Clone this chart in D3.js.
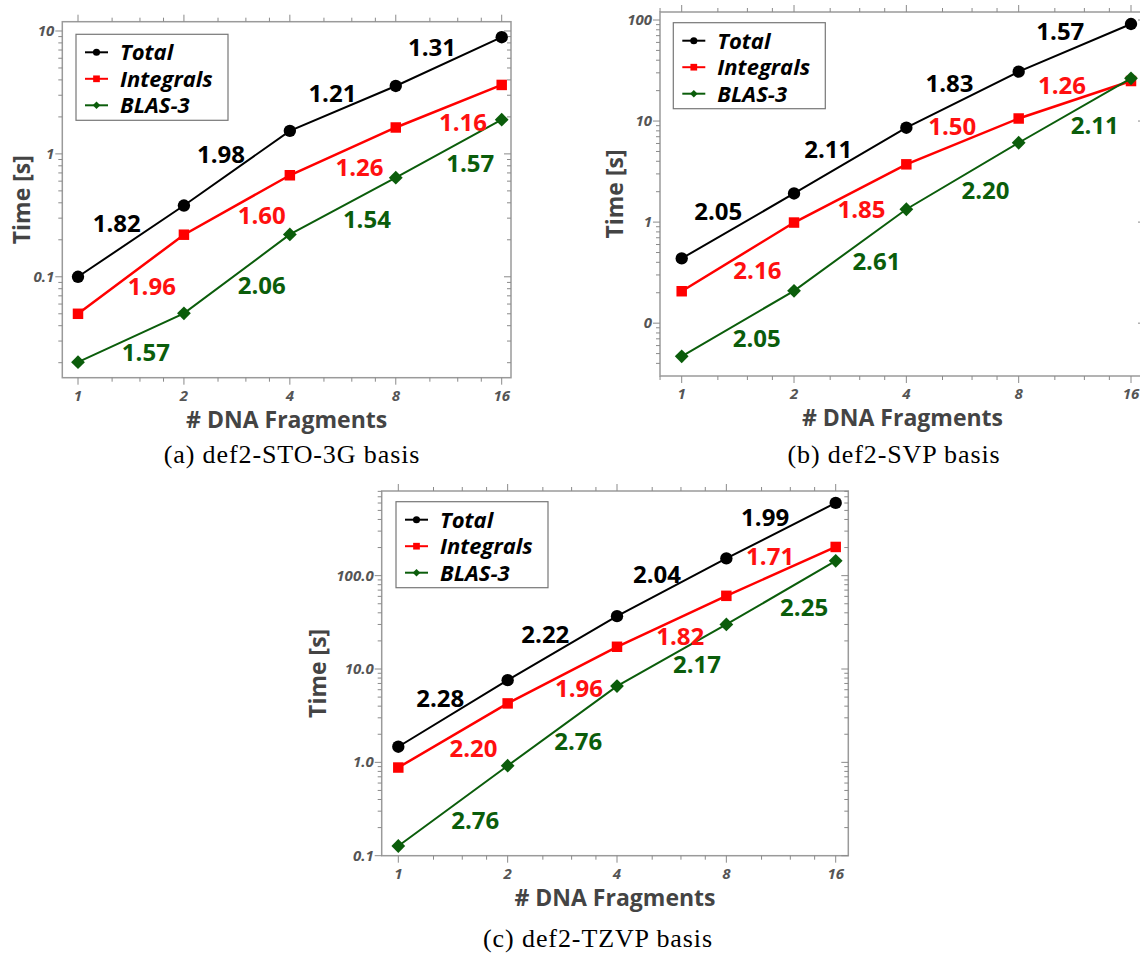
<!DOCTYPE html>
<html>
<head>
<meta charset="utf-8">
<script src="https://cdn.jsdelivr.net/npm/d3@7"></script>
<style>
  body { margin: 0; background: #fff; }
  svg { display: block; }
</style>
</head>
<body>
<svg id="fig" width="1140" height="954"></svg>
<script>
// x axis: number of DNA fragments
const fragments = [1, 2, 4, 8, 16];
const fragmentLabels = ['1', '2', '4', '8', '16'];
const seriesNames = ['Total', 'Integrals', 'BLAS-3'];

// (a) def2-STO-3G, time [s]
const stoTotal = [0.1, 0.38, 1.54, 3.57, 8.9];
const stoIntegrals = [0.050, 0.22, 0.67, 1.64, 3.64];
const stoBlas = [0.0202, 0.0504, 0.221, 0.64, 1.90];
const stoLabels = [
    ['1.82', '1.98', '1.21', '1.31'],
    ['1.96', '1.60', '1.26', '1.16'],
    ['1.57', '2.06', '1.54', '1.57']];
const stoYTicks = [0.1, 1, 10];
const stoYTickLabels = ['0.1', '1', '10'];

// (b) def2-SVP
const svpTotal = [0.437, 1.92, 8.59, 30.8, 91.3];
const svpIntegrals = [0.207, 0.99, 3.73, 10.6, 24.9];
const svpBlas = [0.047, 0.209, 1.34, 6.1, 26.5];
const svpLabels = [
    ['2.05', '2.11', '1.83', '1.57'],
    ['2.16', '1.85', '1.50', '1.26'],
    ['2.05', '2.61', '2.20', '2.11']];
const svpYTicks = [0.1, 1, 10, 100];
const svpYTickLabels = ['0', '1', '10', '100'];

// (c) def2-TZVP
const tzvpTotal = [1.47, 7.6, 36.8, 153, 602];
const tzvpIntegrals = [0.88, 4.28, 17.3, 60.8, 203];
const tzvpBlas = [0.127, 0.92, 6.56, 30.0, 144];
const tzvpLabels = [
    ['2.28', '2.22', '2.04', '1.99'],
    ['2.20', '1.96', '1.82', '1.71'],
    ['2.76', '2.76', '2.17', '2.25']];
const tzvpYTicks = [0.1, 1, 10, 100];
const tzvpYTickLabels = ['0.1', '1.0', '10.0', '100.0'];

// styles
const lineColors = ['#000000', '#ff0000', '#0b5d0b'];
const labelColors = ['#000000', '#ff1010', '#0b5d0b'];
const lineWidths = [2, 2.5, 2];
const markers = ['circle', 'square', 'diamond'];
const font = '"Open Sans", "DejaVu Sans", sans-serif';

// label offsets (px) from the middle of each segment
const stoOffsets = [
    [[-14.2, -18], [-15.9, -14], [-10.4, -15.5], [-16.8, -14]],
    [[20.9, 12.5], [24.9, 10.7], [16.7, 16.3], [14.2, 15.7]],
    [[14.9, 15], [24.9, 11.8], [24.1, 12.8], [21.5, 14.3]]];
const svpOffsets = [
    [[-19.6, -14.8], [-22, -11.2], [-13, -16.4], [-14.5, -16.2]],
    [[19.5, 13.3], [11.3, 16], [-10.3, -14.6], [-12.9, -14]],
    [[18.9, 15], [26.2, 11.7], [23, 14.7], [19.9, 14.5]]];
const tzvpOffsets = [
    [[-12.8, -15], [-17, -14], [-14.7, -12.9], [-15.9, -13.2]],
    [[20.5, 13], [16.6, 13.3], [8.6, 15.5], [-10.9, -15.2]],
    [[22.2, 14.8], [15.9, 15.8], [25.3, 9.1], [23.1, 14.2]]];

const panels = [
    {frame: [62.3, 21.7, 511, 377.7], pad: [15.7, 9.3], yDomain: [0.0151, 11.9],
     yTicks: stoYTicks, yTickLabels: stoYTickLabels,
     series: [stoTotal, stoIntegrals, stoBlas], labels: stoLabels, offsets: stoOffsets,
     yTitleX: 22, legend: [76, 34.3],
     caption: '(a) def2-STO-3G basis', captionPos: [292, 463]},
    {frame: [660, 12, 1145, 376], pad: [21.7, 14], yDomain: [0.03, 120],
     yTicks: svpYTicks, yTickLabels: svpYTickLabels,
     series: [svpTotal, svpIntegrals, svpBlas], labels: svpLabels, offsets: svpOffsets,
     yTitleX: 615, legend: [673.3, 22.7],
     caption: '(b) def2-SVP basis', captionPos: [894, 463]},
    {frame: [381.7, 491, 848.3, 855.7], pad: [16.6, 12.6], yDomain: [0.1, 807],
     yTicks: tzvpYTicks, yTickLabels: tzvpYTickLabels,
     series: [tzvpTotal, tzvpIntegrals, tzvpBlas], labels: tzvpLabels, offsets: tzvpOffsets,
     yTitleX: 317.9, legend: [396, 501.7],
     caption: '(c) def2-TZVP basis', captionPos: [598, 947]}
];

function markerPath(kind, big) {
    if (kind == 'circle')
        return d3.symbol(d3.symbolCircle, big ? 120 : 40)();
    if (kind == 'square')
        return d3.symbol(d3.symbolSquare, big ? 110 : 45)();
    return d3.symbol(d3.symbolSquare, big ? 95 : 28)();
}

function drawPanel(svg, p) {
    const [left, top, right, bottom] = p.frame;
    const x = d3.scaleLog().base(2)
        .domain([1, 16])
        .range([left + p.pad[0], right - p.pad[1]]);
    const y = d3.scaleLog()
        .domain(p.yDomain)
        .range([bottom, top]);
    const g = svg.append('g');

    g.append('rect')
        .attr('x', left).attr('y', top)
        .attr('width', right - left).attr('height', bottom - top)
        .style('fill', 'none')
        .style('stroke', '#9a9a9a')
        .style('stroke-width', 1.5);

    // minor ticks
    const xLo = x.invert(left), xHi = x.invert(right);
    let xMinor = [];
    for (let f = 0.5; f <= 16; f *= 2)
        for (const m of [1.25, 1.5, 1.75])
            if (f * m > xLo && f * m < xHi) xMinor.push(f * m);
    let yMinor = [];
    for (let k = Math.floor(Math.log10(p.yDomain[0])); k <= Math.ceil(Math.log10(p.yDomain[1])); k++)
        for (let m = 2; m <= 9; m++) {
            const v = m * Math.pow(10, k);
            if (v > p.yDomain[0] && v < p.yDomain[1]) yMinor.push(v);
        }

    const ticks = g.append('g').style('stroke', '#8a8a8a').style('stroke-width', 1);
    const xt = fragments.map(v => [v, 7]).concat(xMinor.map(v => [v, 4]));
    ticks.selectAll('.xb').data(xt).enter().append('line')
        .attr('x1', d => x(d[0])).attr('x2', d => x(d[0]))
        .attr('y1', bottom).attr('y2', d => bottom + d[1]);
    ticks.selectAll('.xt').data(xt).enter().append('line')
        .attr('x1', d => x(d[0])).attr('x2', d => x(d[0]))
        .attr('y1', top).attr('y2', d => top - d[1]);
    const yt = p.yTicks.map(v => [v, 7]).concat(yMinor.map(v => [v, 4]));
    ticks.selectAll('.yl').data(yt).enter().append('line')
        .attr('y1', d => y(d[0])).attr('y2', d => y(d[0]))
        .attr('x1', left).attr('x2', d => left - d[1]);
    ticks.selectAll('.yr').data(yt).enter().append('line')
        .attr('y1', d => y(d[0])).attr('y2', d => y(d[0]))
        .attr('x1', right).attr('x2', d => right - d[1]);

    // tick labels
    g.selectAll('.xlab').data(fragments).enter().append('text')
        .attr('x', d => x(d))
        .attr('y', bottom + 23)
        .attr('text-anchor', 'middle')
        .style('font', `italic bold 15px ${font}`)
        .style('fill', '#555')
        .text((_, i) => fragmentLabels[i]);
    g.selectAll('.ylab').data(p.yTicks).enter().append('text')
        .attr('x', left - 8)
        .attr('y', d => y(d) + 5)
        .attr('text-anchor', 'end')
        .style('font', `italic bold 15px ${font}`)
        .style('fill', '#555')
        .text((_, i) => p.yTickLabels[i]);

    // axis titles
    g.append('text')
        .attr('x', (left + right) / 2)
        .attr('y', bottom + 50)
        .attr('text-anchor', 'middle')
        .style('font', `bold 23px ${font}`)
        .style('fill', '#444')
        .text('# DNA Fragments');
    g.append('text')
        .attr('transform', `translate(${p.yTitleX + 8},${(top + bottom) / 2}) rotate(-90)`)
        .attr('text-anchor', 'middle')
        .style('font', `bold 23px ${font}`)
        .style('fill', '#444')
        .text('Time [s]');

    // series
    p.series.forEach((vals, s) => {
        const pts = vals.map((v, i) => [x(fragments[i]), y(v)]);
        g.append('path')
            .attr('d', d3.line()(pts))
            .style('fill', 'none')
            .style('stroke', lineColors[s])
            .style('stroke-width', lineWidths[s]);
        g.selectAll(null).data(pts).enter().append('path')
            .attr('d', markerPath(markers[s], true))
            .attr('transform', d => `translate(${d[0]},${d[1]})` + (markers[s] == 'diamond' ? ' rotate(45)' : ''))
            .style('fill', lineColors[s]);
    });

    // scaling labels between points
    p.series.forEach((vals, s) => {
        g.selectAll(null).data(p.labels[s]).enter().append('text')
            .attr('x', (_, i) => (x(fragments[i]) + x(fragments[i + 1])) / 2 + p.offsets[s][i][0])
            .attr('y', (_, i) => (y(vals[i]) + y(vals[i + 1])) / 2 + p.offsets[s][i][1])
            .attr('dy', '0.36em')
            .attr('text-anchor', 'middle')
            .style('font', `bold 24px ${font}`)
            .style('fill', labelColors[s])
            .text(d => d);
    });

    // legend
    const [lx, ly] = p.legend;
    const leg = g.append('g').attr('transform', `translate(${lx},${ly})`);
    leg.append('rect')
        .attr('width', 152).attr('height', 86)
        .style('fill', '#fff')
        .style('stroke', '#777')
        .style('stroke-width', 1.2);
    seriesNames.forEach((name, s) => {
        const ry = 18 + s * 26.5;
        leg.append('line')
            .attr('x1', 9).attr('x2', 32).attr('y1', ry).attr('y2', ry)
            .style('stroke', lineColors[s]).style('stroke-width', 2);
        leg.append('path')
            .attr('d', markerPath(markers[s], false))
            .attr('transform', `translate(20.5,${ry})` + (markers[s] == 'diamond' ? ' rotate(45)' : ''))
            .style('fill', lineColors[s]);
        leg.append('text')
            .attr('x', 44).attr('y', ry).attr('dy', '0.36em')
            .style('font', `italic bold 22px ${font}`)
            .style('fill', '#000')
            .text(name);
    });

    // caption
    svg.append('text')
        .attr('x', p.captionPos[0]).attr('y', p.captionPos[1])
        .attr('text-anchor', 'middle')
        .style('font', '26px "Liberation Serif", "DejaVu Serif", serif')
        .style('letter-spacing', '0.9px')
        .style('fill', '#000')
        .text(p.caption);
}

const svg = d3.select('#fig');
panels.forEach(p => drawPanel(svg, p));
</script>
</body>
</html>
